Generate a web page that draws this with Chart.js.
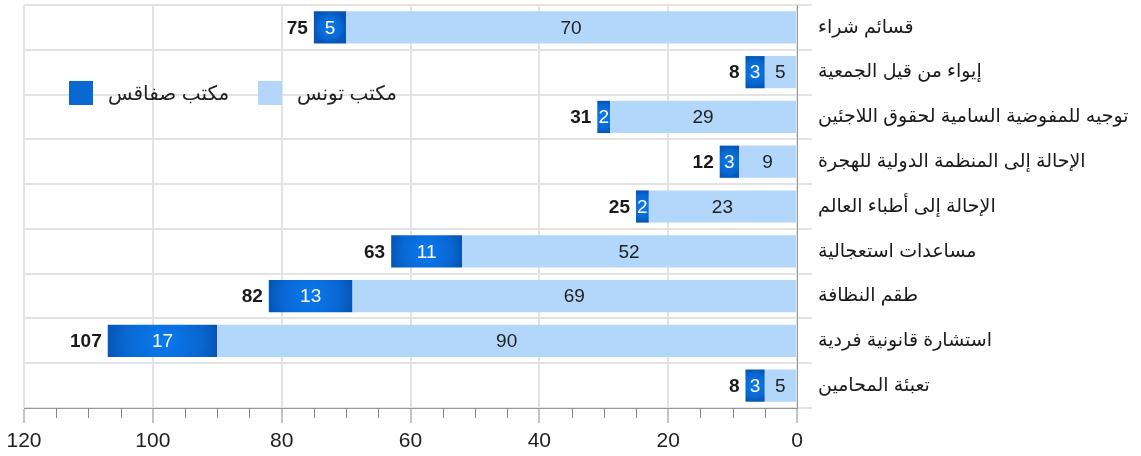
<!DOCTYPE html>
<html>
<head>
<meta charset="utf-8">
<script src="https://cdn.jsdelivr.net/npm/chart.js@4/dist/chart.umd.min.js"></script>
<style>
  html, body { margin: 0; padding: 0; background: #fff; }
  #wrap { width: 1141px; height: 456px; position: relative; }
</style>
</head>
<body>
<div id="wrap"><canvas id="grafica"></canvas></div>
<script>
// Categorías (de arriba hacia abajo)
const categorias = [
  'قسائم شراء',
  'إيواء من قيل الجمعية',
  'توجيه للمفوضية السامية لحقوق اللاجئين',
  'الإحالة إلى المنظمة الدولية للهجرة',
  'الإحالة إلى أطباء العالم',
  'مساعدات استعجالية',
  'طقم النظافة',
  'استشارة قانونية فردية',
  'تعبئة المحامين'
];
const serieNombres = ['مكتب تونس', 'مكتب صفاقس'];
const valoresTunis = [70, 5, 29, 9, 23, 52, 69, 90, 5];
const valoresSfax = [5, 3, 2, 3, 2, 11, 13, 17, 3];
const ticksX = [0, 20, 40, 60, 80, 100, 120];

const totales = valoresTunis.map((v, i) => v + valoresSfax[i]);
const fuente = '"Liberation Sans", "DejaVu Sans", sans-serif';
const colorClaro = '#b3d7fa';
const colorOscuro = '#0a68d2';

// Degradado radial para las barras de Sfax
function degradadoSfax(ctx) {
  const chart = ctx.chart;
  const xs = chart.scales.x, ys = chart.scales.y;
  if (!xs || !ys || ctx.type !== 'data') return colorOscuro;
  const i = ctx.dataIndex;
  const x0 = xs.getPixelForValue(valoresTunis[i]);
  const x1 = xs.getPixelForValue(totales[i]);
  const yc = ys.getPixelForValue(i);
  const xc = (x0 + x1) / 2;
  const r = Math.max(Math.abs(x1 - x0) / 2, 16);
  if (!isFinite(xc) || !isFinite(yc)) return colorOscuro;
  const g = chart.ctx.createRadialGradient(xc, yc, 0, xc, yc, r);
  g.addColorStop(0, '#0a7aee');
  g.addColorStop(0.7, '#0967d2');
  g.addColorStop(1, '#0556b8');
  return g;
}

// Etiquetas dentro de las barras y totales
const pluginEtiquetas = {
  id: 'etiquetas',
  afterDatasetsDraw(chart) {
    const ctx = chart.ctx;
    ctx.save();
    ctx.textBaseline = 'middle';
    ctx.textAlign = 'center';
    ctx.font = '19px ' + fuente;
    chart.data.datasets.forEach((ds, d) => {
      const meta = chart.getDatasetMeta(d);
      meta.data.forEach((bar, i) => {
        ctx.fillStyle = d === 0 ? '#222' : '#fff';
        ctx.fillText(String(ds.data[i]), (bar.x + bar.base) / 2, bar.y + 1);
      });
    });
    const metaTop = chart.getDatasetMeta(1);
    ctx.textAlign = 'right';
    ctx.font = 'bold 19px ' + fuente;
    ctx.fillStyle = '#1a1a1a';
    metaTop.data.forEach((bar, i) => {
      ctx.fillText(String(totales[i]), bar.x - 6, bar.y + 1);
    });
    ctx.restore();
  }
};

// Marcas menores del eje X y leyenda dentro del área
const pluginExtras = {
  id: 'extras',
  afterDraw(chart) {
    const ctx = chart.ctx;
    const xs = chart.scales.x;
    const area = chart.chartArea;
    ctx.save();
    ctx.strokeStyle = '#888';
    ctx.lineWidth = 1;
    for (let v = 5; v < 120; v += 5) {
      if (v % 20 === 0) continue;
      const px = Math.round(xs.getPixelForValue(v)) + 0.5;
      ctx.beginPath();
      ctx.moveTo(px, area.bottom);
      ctx.lineTo(px, area.bottom + 10);
      ctx.stroke();
    }
    // leyenda
    const yc = area.top + 88;
    const items = [
      { texto: serieNombres[1], color: colorOscuro, x: 69 },
      { texto: serieNombres[0], color: colorClaro, x: 258 }
    ];
    ctx.font = '20px ' + fuente;
    ctx.textBaseline = 'middle';
    ctx.textAlign = 'left';
    items.forEach(it => {
      ctx.fillStyle = it.color;
      ctx.fillRect(it.x, yc - 12, 24, 24);
      ctx.fillStyle = '#222';
      ctx.fillText(it.texto, it.x + 39, yc + 1);
    });
    ctx.restore();
  }
};

new Chart(document.getElementById('grafica'), {
  type: 'bar',
  data: {
    labels: categorias,
    datasets: [
      {
        label: serieNombres[0],
        data: valoresTunis,
        backgroundColor: colorClaro,
        borderWidth: 0
      },
      {
        label: serieNombres[1],
        data: valoresSfax,
        backgroundColor: degradadoSfax,
        borderWidth: 0
      }
    ]
  },
  options: {
    indexAxis: 'y',
    responsive: true,
    maintainAspectRatio: false,
    animation: false,
    layout: { padding: { left: 24, top: 5, right: 0, bottom: 0 } },
    plugins: {
      legend: { display: false },
      tooltip: { enabled: false }
    },
    scales: {
      x: {
        stacked: true,
        reverse: true,
        min: 0,
        max: 120,
        afterBuildTicks: (scale) => {
          scale.ticks = ticksX.map(v => ({ value: v }));
        },
        afterFit: (scale) => {
          scale.height = 48;
          scale.paddingLeft = 0;
          scale.paddingRight = 0;
        },
        ticks: {
          autoSkip: false,
          maxRotation: 0,
          padding: 6,
          color: '#222',
          font: { size: 21, family: fuente }
        },
        grid: {
          color: '#e3e3e3',
          lineWidth: 2,
          tickColor: '#888',
          tickLength: 15,
          tickWidth: 1
        },
        border: { color: '#999', width: 1 }
      },
      y: {
        position: 'right',
        stacked: true,
        afterFit: (scale) => {
          scale.width = 344;
          scale.paddingTop = 0;
          scale.paddingBottom = 0;
        },
        ticks: {
          padding: 6,
          color: '#1a1a1a',
          font: { size: 19, family: fuente }
        },
        grid: {
          color: '#e3e3e3',
          lineWidth: 2,
          tickLength: 15
        },
        border: { color: '#999', width: 1 }
      }
    },
    datasets: {
      bar: { categoryPercentage: 0.8, barPercentage: 0.9 }
    }
  },
  plugins: [pluginEtiquetas, pluginExtras]
});
</script>
</body>
</html>
